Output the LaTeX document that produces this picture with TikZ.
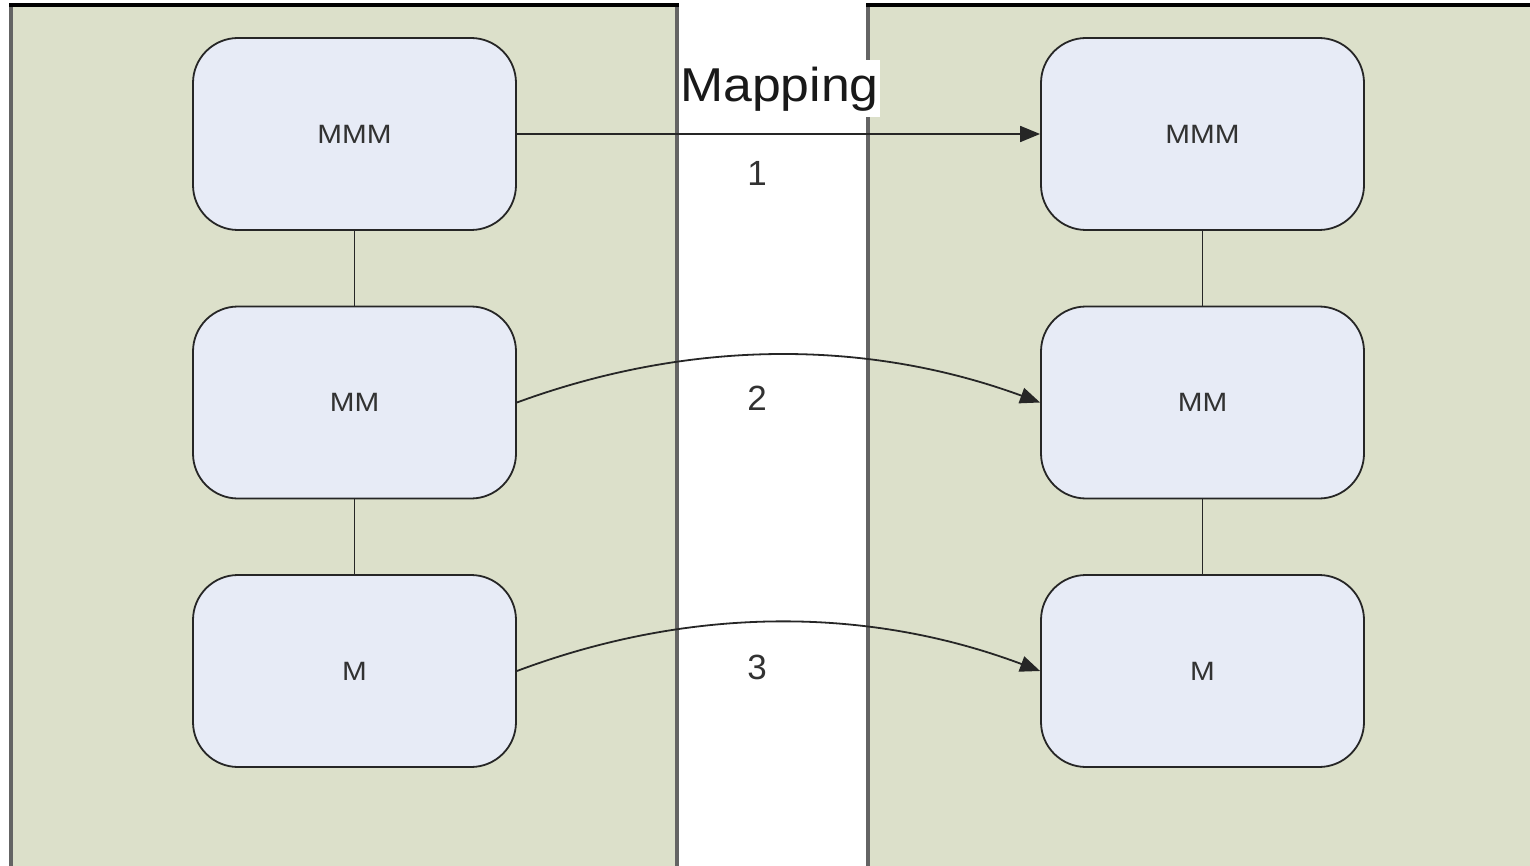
\documentclass[tikz,border=0pt]{standalone}
\usepackage{fontspec}
\setmainfont{Liberation Sans}
\usetikzlibrary{arrows.meta}
\definecolor{panelfill}{RGB}{220,224,202}
\definecolor{boxfill}{RGB}{231,235,246}
\definecolor{labelgray}{RGB}{50,50,50}
\definecolor{edgegray}{RGB}{100,100,100}
\begin{document}
\begin{tikzpicture}[x=1pt,y=-1pt,
  panelside/.style={draw=edgegray,line width=3.5pt},
  paneltop/.style={draw=black,line width=3.5pt},
  level/.style={draw=black!85,fill=boxfill,line width=1.8pt,rounded corners=45pt,
    minimum width=323pt,minimum height=192pt,inner sep=0pt,
    font=\fontsize{26.5}{30}\selectfont,text=labelgray},
  link/.style={draw=black!85,line width=1.8pt},
  maparrow/.style={draw=black!85,line width=1.8pt,-{Triangle[length=20pt,width=16pt]}},
  stepnum/.style={font=\fontsize{35}{42}\selectfont,text=labelgray}]
\newcommand\widelabel[1]{\scalebox{1.12}[1]{#1}}
\useasboundingbox (0,0) rectangle (1530,866);
\begin{scope}
\clip (0,0) rectangle (1530,866);
% the two side panels
\fill[panelfill] (11,5) rectangle (677,900);
\fill[panelfill] (868,5) rectangle (1580,900);
\draw[panelside] (11,5) -- (11,900);
\draw[panelside] (677,5) -- (677,900);
\draw[panelside] (868,5) -- (868,900);
\draw[paneltop] (9.25,5) -- (678.75,5);
\draw[paneltop] (866.25,5) -- (1580,5);
\end{scope}
% left column
\node[level] (lmmm) at (354.5,134) {\widelabel{MMM}};
\node[level] (lmm)  at (354.5,402.5) {\widelabel{MM}};
\node[level] (lm)   at (354.5,671) {\widelabel{M}};
% right column
\node[level] (rmmm) at (1202.5,134) {\widelabel{MMM}};
\node[level] (rmm)  at (1202.5,402.5) {\widelabel{MM}};
\node[level] (rm)   at (1202.5,671) {\widelabel{M}};
% links within each column
\draw[link] (lmmm) -- (lmm);
\draw[link] (lmm) -- (lm);
\draw[link] (rmmm) -- (rmm);
\draw[link] (rmm) -- (rm);
% mappings between the columns
\draw[maparrow] (lmmm.east) -- (rmmm.west);
\draw[maparrow] (lmm.east) .. controls (690,339) and (867,339) .. (rmm.west);
\draw[maparrow] (lm.east) .. controls (690,606) and (867,606) .. (rm.west);
% labels
\node[fill=white,inner sep=0pt,minimum width=201pt,minimum height=57pt,
  font=\fontsize{47.5}{56}\selectfont,text=black!90] (maplabel) at (779.5,89)
  {\scalebox{1.09}[1]{Mapping}};
\node[stepnum] (n1) at (757,173) {1};
\node[stepnum] (n2) at (757,398) {2};
\node[stepnum] (n3) at (757,667) {3};
\end{tikzpicture}
\end{document}
